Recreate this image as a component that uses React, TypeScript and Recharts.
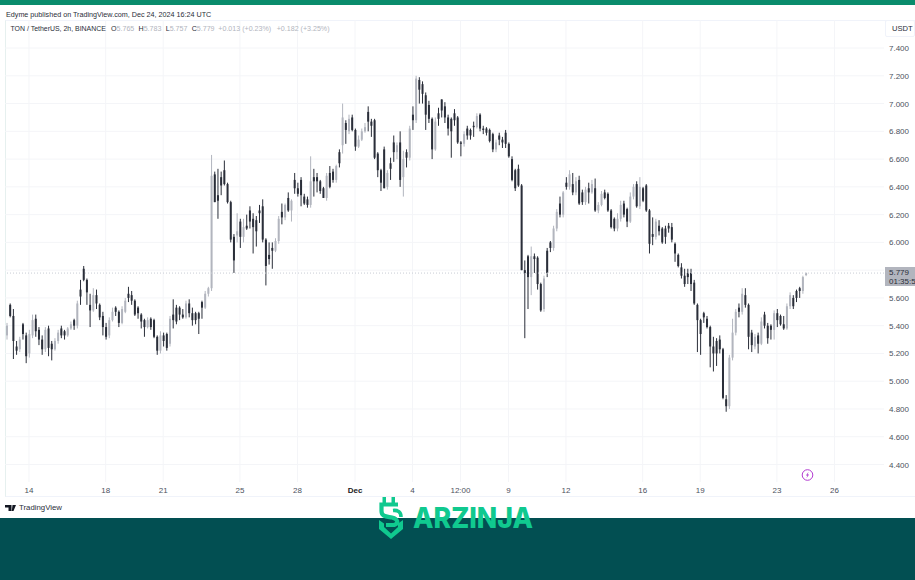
import { Bar, CartesianGrid, ComposedChart, ReferenceLine, XAxis, YAxis } from 'recharts';

// one candle every 3.2px
const opens = [
  5.33,5.55,5.47,5.25,5.23,5.41,5.33,5.20,5.33,5.45,
  5.37,5.30,5.23,5.38,5.27,5.23,5.29,5.38,5.36,5.33,
  5.38,5.44,5.40,5.66,5.81,5.73,5.55,5.51,5.62,5.55,
  5.47,5.39,5.33,5.44,5.53,5.50,5.42,5.50,5.63,5.62,
  5.58,5.53,5.48,5.44,5.39,5.45,5.44,5.32,5.22,5.33,
  5.34,5.27,5.48,5.53,5.53,5.48,5.46,5.56,5.49,5.49,
  5.49,5.57,5.53,5.63,5.67,6.49,6.34,6.47,6.52,6.42,
  6.29,6.04,6.05,6.15,6.04,6.12,6.23,6.17,6.16,6.23,
  6.26,6.02,5.91,5.96,5.94,6.01,6.22,6.18,6.32,6.23,
  6.45,6.39,6.45,6.33,6.31,6.27,6.47,6.47,6.44,6.39,
  6.32,6.50,6.51,6.45,6.65,6.70,6.86,6.80,6.90,6.81,
  6.69,6.74,6.80,6.94,6.87,6.88,6.64,6.52,6.67,6.40,
  6.57,6.72,6.65,6.72,6.47,6.65,6.61,6.92,6.88,7.17,
  7.14,7.06,6.99,6.89,6.67,6.93,7.03,6.98,6.90,6.89,
  6.93,6.90,6.72,6.71,6.82,6.81,6.84,6.83,6.92,6.82,
  6.82,6.81,6.78,6.67,6.77,6.74,6.79,6.71,6.60,6.52,
  6.53,6.41,5.80,5.90,5.75,5.90,5.89,5.70,5.52,5.94,
  6.00,5.96,6.10,6.28,6.20,6.43,6.40,6.42,6.36,6.45,
  6.36,6.29,6.39,6.36,6.39,6.23,6.27,6.36,6.35,6.23,
  6.17,6.10,6.17,6.28,6.24,6.15,6.33,6.42,6.26,6.39,
  6.41,6.23,6.06,6.04,6.12,6.10,6.10,6.12,6.11,5.99,
  5.91,5.82,5.76,5.78,5.78,5.71,5.55,5.44,5.49,5.45,
  5.39,5.25,5.29,5.30,5.23,4.87,4.82,5.17,5.35,5.53,
  5.50,5.62,5.55,5.35,5.25,5.33,5.27,5.48,5.40,5.40,
  5.37,5.49,5.47,5.41,5.38,5.54,5.60,5.65,5.67,5.65,5.765,
];
const highs = [
  5.42,5.56,5.52,5.29,5.32,5.42,5.35,5.37,5.48,5.48,
  5.39,5.33,5.39,5.40,5.29,5.31,5.37,5.40,5.37,5.39,
  5.43,5.45,5.58,5.73,5.83,5.74,5.63,5.67,5.66,5.56,
  5.50,5.42,5.46,5.53,5.54,5.51,5.54,5.60,5.68,5.65,
  5.59,5.54,5.49,5.45,5.46,5.46,5.45,5.33,5.36,5.35,
  5.35,5.47,5.59,5.55,5.54,5.52,5.58,5.59,5.53,5.50,
  5.50,5.58,5.65,5.68,6.63,6.51,6.53,6.51,6.59,6.43,
  6.30,6.06,6.21,6.17,6.17,6.20,6.26,6.21,6.19,6.27,
  6.31,6.03,6.00,6.00,6.03,6.19,6.28,6.28,6.36,6.31,
  6.50,6.43,6.47,6.35,6.33,6.62,6.53,6.50,6.45,6.40,
  6.50,6.55,6.53,6.56,6.67,7.00,6.88,6.92,6.92,6.82,
  6.77,6.82,6.86,6.98,6.89,6.89,6.65,6.53,6.69,6.52,
  6.61,6.77,6.72,6.80,6.66,6.67,6.84,6.98,7.20,7.19,
  7.16,7.08,7.02,6.90,6.90,6.97,7.03,7.01,6.92,6.90,
  6.96,6.91,6.73,6.80,6.84,6.82,6.87,6.93,6.93,6.84,
  6.83,6.82,6.79,6.74,6.79,6.76,6.81,6.72,6.62,6.53,
  6.56,6.42,5.87,5.91,5.97,5.92,5.90,5.71,5.76,5.96,
  6.01,6.12,6.24,6.33,6.37,6.47,6.52,6.50,6.47,6.48,
  6.38,6.40,6.43,6.45,6.46,6.29,6.37,6.38,6.36,6.24,
  6.18,6.21,6.30,6.30,6.25,6.36,6.42,6.44,6.47,6.40,
  6.42,6.24,6.18,6.17,6.16,6.11,6.12,6.14,6.14,6.00,
  5.92,5.85,5.81,5.81,5.81,5.73,5.56,5.45,5.50,5.47,
  5.40,5.32,5.31,5.33,5.24,4.90,5.19,5.45,5.52,5.56,
  5.67,5.67,5.56,5.37,5.34,5.35,5.46,5.50,5.42,5.41,
  5.51,5.52,5.48,5.47,5.56,5.64,5.62,5.66,5.68,5.76,5.783,
];
const lows = [
  5.30,5.46,5.16,5.19,5.21,5.30,5.13,5.17,5.31,5.32,
  5.26,5.19,5.21,5.18,5.15,5.22,5.27,5.31,5.30,5.32,
  5.37,5.37,5.38,5.55,5.72,5.55,5.39,5.50,5.52,5.44,
  5.33,5.30,5.31,5.43,5.47,5.39,5.41,5.49,5.57,5.55,
  5.47,5.45,5.38,5.32,5.38,5.37,5.31,5.19,5.20,5.25,
  5.22,5.25,5.38,5.41,5.44,5.45,5.45,5.46,5.40,5.41,
  5.34,5.45,5.52,5.61,5.65,6.29,6.17,6.34,6.41,6.28,
  6.00,5.78,6.00,5.96,6.00,6.09,6.10,5.92,5.97,6.14,
  6.00,5.69,5.84,5.81,5.93,5.99,6.13,6.16,6.22,6.15,
  6.35,6.33,6.26,6.27,6.25,6.25,6.33,6.36,6.35,6.32,
  6.30,6.39,6.43,6.43,6.54,6.64,6.71,6.78,6.80,6.66,
  6.68,6.73,6.79,6.80,6.76,6.60,6.47,6.37,6.39,6.38,
  6.45,6.58,6.60,6.40,6.33,6.54,6.59,6.81,6.86,7.00,
  7.00,6.81,6.86,6.60,6.66,6.84,6.90,6.86,6.77,6.61,
  6.84,6.71,6.62,6.69,6.74,6.74,6.76,6.82,6.80,6.78,
  6.77,6.72,6.65,6.65,6.70,6.68,6.68,6.61,6.44,6.37,
  6.40,5.80,5.31,5.52,5.62,5.78,5.66,5.50,5.50,5.75,
  5.93,5.94,6.08,6.18,6.18,6.38,6.38,6.34,6.34,6.27,
  6.27,6.27,6.28,6.35,6.22,6.21,6.26,6.31,6.22,6.10,
  6.08,6.08,6.15,6.18,6.11,6.14,6.31,6.25,6.24,6.29,
  6.22,5.92,5.98,6.02,6.05,5.99,5.99,6.07,6.00,5.86,
  5.82,5.74,5.68,5.70,5.65,5.55,5.21,5.19,5.42,5.38,
  5.10,5.07,5.11,5.20,4.87,4.78,4.80,5.15,5.33,5.46,
  5.48,5.53,5.23,5.21,5.23,5.20,5.26,5.38,5.27,5.30,
  5.30,5.39,5.40,5.37,5.37,5.52,5.52,5.57,5.60,5.63,5.757,
];
const closes = [
  5.40,5.47,5.29,5.22,5.30,5.34,5.18,5.34,5.44,5.36,
  5.30,5.23,5.37,5.24,5.23,5.29,5.35,5.33,5.33,5.38,
  5.41,5.40,5.56,5.61,5.73,5.64,5.51,5.62,5.56,5.46,
  5.39,5.32,5.44,5.50,5.50,5.42,5.52,5.58,5.60,5.58,
  5.48,5.49,5.43,5.39,5.44,5.39,5.32,5.22,5.33,5.29,
  5.24,5.45,5.44,5.43,5.48,5.46,5.56,5.49,5.44,5.44,
  5.45,5.53,5.63,5.67,6.48,6.29,6.30,6.41,6.42,6.29,
  6.02,5.87,6.08,6.04,6.11,6.10,6.15,6.11,6.08,6.21,
  6.02,5.83,5.88,5.94,6.01,6.17,6.18,6.27,6.23,6.30,
  6.39,6.35,6.34,6.28,6.27,6.44,6.44,6.44,6.37,6.32,
  6.48,6.40,6.45,6.55,6.57,6.90,6.81,6.89,6.81,6.69,
  6.74,6.80,6.83,6.87,6.84,6.61,6.52,6.43,6.39,6.50,
  6.53,6.65,6.70,6.45,6.60,6.61,6.82,6.88,7.18,7.10,
  7.07,6.92,6.89,6.67,6.87,6.89,6.95,6.90,6.82,6.80,
  6.88,6.72,6.71,6.78,6.77,6.77,6.83,6.91,6.82,6.81,
  6.79,6.73,6.67,6.72,6.74,6.72,6.71,6.62,6.45,6.39,
  6.41,5.80,5.78,5.75,5.90,5.88,5.70,5.51,5.74,5.78,
  5.96,6.10,6.22,6.20,6.36,6.40,6.49,6.36,6.44,6.28,
  6.29,6.38,6.36,6.42,6.23,6.27,6.35,6.32,6.23,6.11,
  6.10,6.17,6.27,6.20,6.15,6.33,6.40,6.26,6.40,6.30,
  6.23,5.99,6.04,6.15,6.08,6.00,6.04,6.10,6.02,5.92,
  5.83,5.76,5.70,5.75,5.70,5.56,5.44,5.34,5.46,5.39,
  5.25,5.20,5.20,5.23,4.88,4.82,5.17,5.35,5.50,5.50,
  5.63,5.55,5.32,5.26,5.32,5.27,5.43,5.40,5.31,5.37,
  5.49,5.44,5.41,5.38,5.54,5.62,5.54,5.60,5.65,5.75,5.779,
];

const xTickSlots = [7, 31, 49, 73, 91, 109, 127, 142, 157, 175, 199, 217, 241, 259];
const xTickLabels = ['14', '18', '21', '25', '28', 'Dec', '4', '12:00', '9', '12', '16', '19', '23', '26'];
const yTicks = [4.4, 4.6, 4.8, 5.0, 5.2, 5.4, 5.6, 5.8, 6.0, 6.2, 6.4, 6.6, 6.8, 7.0, 7.2, 7.4];
const lastPrice = 5.779;
const slotCount = 275; // empty space on the right of the last candle

const tableRows = Array.from({ length: slotCount }, (_, slot) => ({
  slot,
  open: opens[slot],
  close: closes[slot],
  high: highs[slot],
  low: lows[slot],
  range: slot < closes.length ? [lows[slot], highs[slot]] : undefined,
}));

const FONT = '"Liberation Sans", Arimo, sans-serif';
const UP = '#b2b5be';
const DOWN = '#2a2e39';
const BRAND = '#10c98f';

// Bar gets [low, high] from the scale, body is placed inside that span
function Candle(props: any) {
  const { x, y, width, height, payload } = props;
  if (payload.open === undefined || height === undefined) return null;
  const { open, close, high, low } = payload;
  const perUnit = height / (high - low);
  const color = close >= open ? UP : DOWN;
  const top = y + (high - Math.max(open, close)) * perUnit;
  const bodyH = Math.max(Math.abs(open - close) * perUnit, 1);
  const mid = x + width / 2;
  return (
    <g>
      <line x1={mid} x2={mid} y1={y} y2={y + height} stroke={color} strokeWidth={1} />
      <rect x={x} y={top} width={width} height={bodyH} fill={color} />
    </g>
  );
}

function TimeTick(props: any) {
  const { x, y, payload } = props;
  const label = xTickLabels[xTickSlots.indexOf(payload.value)];
  return (
    <text x={x} y={y + 3} textAnchor="middle" fontSize={8} fontFamily={FONT} fontWeight={label === 'Dec' ? 700 : 400} fill={label === 'Dec' ? '#222' : '#4c525e'}>
      {label}
    </text>
  );
}

function PriceTick(props: any) {
  const { x, y, payload } = props;
  return (
    <text x={x - 3} y={y + 3} fontSize={8} fontFamily={FONT} fill="#4c525e">
      {payload.value.toFixed(3)}
    </text>
  );
}

const abs = (left: number, top: number): React.CSSProperties => ({ position: 'absolute', left, top, whiteSpace: 'nowrap', lineHeight: 1 });

export default function App() {
  const grey = '#b2b5be';
  const legend = { fontSize: 7.1, color: '#2a2e39' };
  return (
    <div style={{ position: 'absolute', left: 0, top: 0, width: 915, height: 580, overflow: 'hidden', background: '#fff', fontFamily: FONT }}>
      <div style={{ position: 'absolute', left: 0, top: 0, width: 915, height: 5, background: '#0a8c6c' }} />
      <div style={{ position: 'absolute', left: 5, top: 20, width: 910, height: 477, borderLeft: '1px solid #e6f0ef', borderTop: '1px solid #f0f3fa', borderBottom: '1px solid #f0f3fa', boxSizing: 'border-box' }} />

      <div style={{ position: 'absolute', left: 0, top: 0 }}>
        <ComposedChart width={915} height={518} data={tableRows} margin={{ top: 20, right: 0, bottom: 21, left: 5 }} barSize={2}>
          <CartesianGrid stroke="#f4f5f8" strokeWidth={1} syncWithTicks />
          <XAxis dataKey="slot" type="category" ticks={xTickSlots} interval={0} height={15} axisLine={false} tickLine={false} tick={<TimeTick />} />
          <YAxis orientation="right" width={31} domain={[4.274, 7.602]} allowDataOverflow ticks={yTicks} interval={0} axisLine={false} tickLine={false} tick={<PriceTick />} />
          <ReferenceLine y={lastPrice} stroke="#c9ccd4" strokeDasharray="1 2" />
          <Bar dataKey="range" shape={<Candle />} isAnimationActive={false} />
        </ComposedChart>
      </div>

      <div style={{ ...abs(6, 10.5), ...legend, fontSize: 7.2 }}>Edyme published on TradingView.com, Dec 24, 2024 16:24 UTC</div>
      <div style={{ ...abs(10.5, 25.5), ...legend, fontSize: 6.95 }}>TON / TetherUS, 2h, BINANCE</div>
      <div style={{ ...abs(111, 25.5), ...legend }}>O<span style={{ color: grey }}>5.765</span></div>
      <div style={{ ...abs(138.5, 25.5), ...legend }}>H<span style={{ color: grey }}>5.783</span></div>
      <div style={{ ...abs(165.7, 25.5), ...legend }}>L<span style={{ color: grey }}>5.757</span></div>
      <div style={{ ...abs(191.7, 25.5), ...legend }}>C<span style={{ color: grey }}>5.779</span></div>
      <div style={{ ...abs(218.3, 25.5), ...legend, color: grey }}>+0.013 (+0.23%)</div>
      <div style={{ ...abs(276.7, 25.5), ...legend, color: grey }}>+0.182 (+3.25%)</div>

      <div style={{ position: 'absolute', left: 885, top: 20, width: 30, height: 17, background: '#fff', border: '1px solid #f0f3fa', borderRadius: 2, boxSizing: 'border-box' }} />
      <div style={{ ...abs(892, 25), ...legend, fontSize: 7.6 }}>USDT</div>

      <div style={{ position: 'absolute', left: 885, top: 267, width: 30, height: 19, background: '#b2b5be', overflow: 'hidden', fontSize: 8, lineHeight: '9px', color: '#2a2e39', paddingLeft: 4, paddingTop: 1, boxSizing: 'border-box', whiteSpace: 'nowrap' }}>
        5.779<br />01:35:5
      </div>

      <svg style={{ position: 'absolute', left: 0, top: 0 }} width={915} height={580}>
        <circle cx={807.5} cy={475} r={5.3} fill="none" stroke="#b33bd1" strokeWidth={1} />
        <path d="M808.6 471.8 L805.9 475.5 L807.4 475.5 L806.4 478.2 L809.1 474.5 L807.6 474.5 Z" fill="#b33bd1" />
        <path d="M5 505 H11.5 V511 H8.5 V507.5 H5 Z M12.5 505 H16 L13.5 511 H11.8 Z" fill="#131722" />
      </svg>
      <div style={{ ...abs(19, 503.5), fontSize: 7.8, color: '#2a2e39' }}>TradingView</div>

      <div style={{ position: 'absolute', left: 0, top: 518, width: 915, height: 62, background: '#024f52' }} />

      {/* brand mark over the band edge */}
      <svg style={{ position: 'absolute', left: 0, top: 0 }} width={915} height={580}>
        <rect x={382.5} y={497} width={3.5} height={7} fill={BRAND} />
        <rect x={391.5} y={497} width={3.5} height={7} fill={BRAND} />
        <path d="M398 504.5 H381.5 V511 C381.5 517 387 516.5 392 517.5 C398 519 399 523 394 525 H386" fill="none" stroke={BRAND} strokeWidth={4.2} />
        <path d="M393 510.5 C398 510 401 512 401 517" fill="none" stroke={BRAND} strokeWidth={3.6} />
        <path d="M379 520 L384 523.5 V527 L391 533.5 L398 527 V523.5 L403 520 V529 L391 539 L379 529 Z" fill={BRAND} />
        <text x={413} y={528} fontFamily="Inter, sans-serif" fontWeight={800} fontSize={29} textLength={120} lengthAdjust="spacingAndGlyphs" fill={BRAND}>ARZINJA</text>
      </svg>
    </div>
  );
}
